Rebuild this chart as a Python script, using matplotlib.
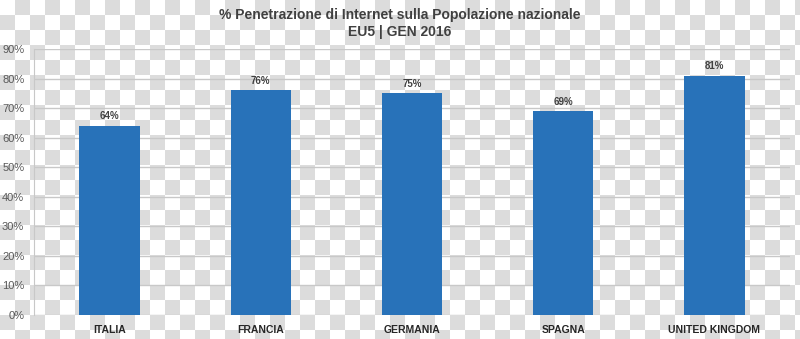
import numpy as np
import matplotlib
matplotlib.use('Agg')
import matplotlib.pyplot as plt
from matplotlib.ticker import FuncFormatter

plt.rcParams['font.family'] = ['Liberation Sans', 'DejaVu Sans']

countries = ['ITALIA', 'FRANCIA', 'GERMANIA', 'SPAGNA', 'UNITED KINGDOM']
penetration = [64, 76, 75, 69, 81]
labels = ['64%', '76%', '75%', '69%', '81%']
title = '% Penetrazione di Internet sulla Popolazione nazionale\nEU5 | GEN 2016'

fig = plt.figure(figsize=(8, 3.39), dpi=100)

# checkerboard backdrop (the reference is a "transparent" png)
bg = fig.add_axes([0, 0, 1, 1], zorder=0)
sq = 15
rows, cols = 339 // sq + 1, 800 // sq + 1
board = (np.indices((rows, cols)).sum(axis=0) % 2)
bg.imshow(board, cmap=matplotlib.colors.ListedColormap(['#ffffff', '#dcdcdc']),
          extent=(0, cols * sq, rows * sq, 0), interpolation='nearest', aspect='auto')
bg.set_xlim(0, 800)
bg.set_ylim(339, 0)
bg.axis('off')

ax = fig.add_axes([0.0425, 0.0708, 0.945, 0.7847], zorder=1)
ax.patch.set_alpha(0)

x = np.arange(len(countries))
bars = ax.bar(x, penetration, width=0.4, color='#2872b9', zorder=3)
for b, lab in zip(bars, labels):
    ax.text(b.get_x() + b.get_width() / 2, b.get_height() + 1.5, lab,
            ha='center', va='bottom', fontsize=7, fontweight='bold', color='#404040')

ax.set_xlim(-0.5, len(countries) - 0.5)
ax.set_ylim(0, 90)
ax.set_yticks(range(0, 91, 10))
ax.yaxis.set_major_formatter(FuncFormatter(lambda v, p: f'{int(v)}%'))
ax.grid(axis='y', color='#c8c8c8', linewidth=1, zorder=1)
ax.set_xticks(x)
ax.set_xticklabels(countries, fontsize=7.5, fontweight='bold', color='#262626')
ax.tick_params(axis='x', length=0, pad=7)
ax.tick_params(axis='y', length=0, pad=7, labelsize=8, labelcolor='#595959')
for s in ['top', 'right', 'bottom']:
    ax.spines[s].set_visible(False)
ax.spines['left'].set_color('#c8c8c8')

fig.text(0.5, 0.975, title, ha='center', va='top', fontsize=10, fontweight='bold',
         color='#404040', linespacing=1.25)

fig.savefig('out.png', dpi=100)
